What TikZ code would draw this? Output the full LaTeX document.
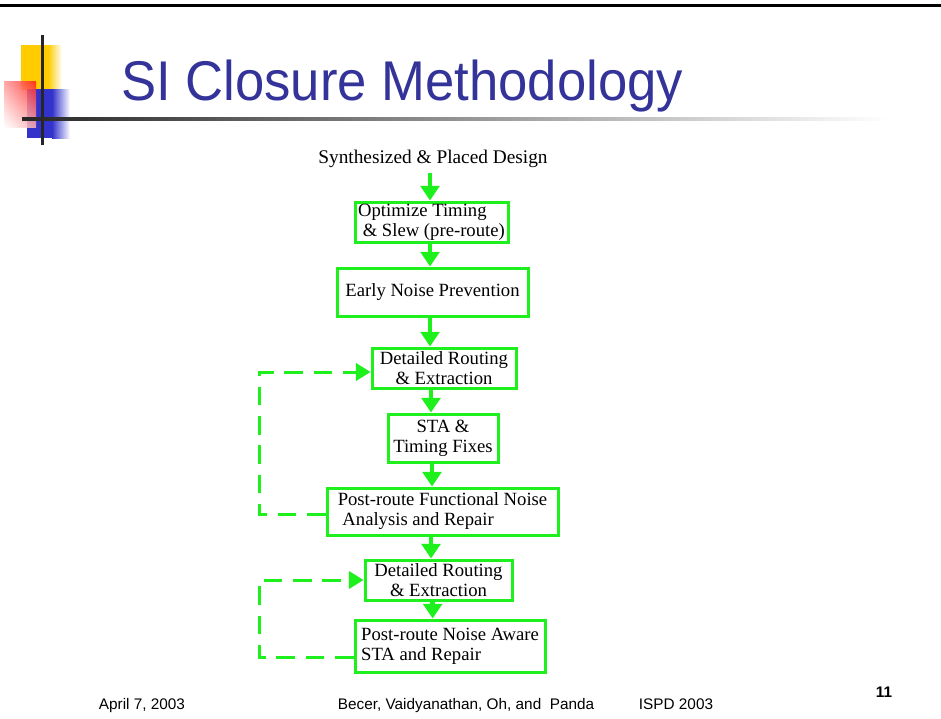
\documentclass[tikz,border=0pt]{standalone}
\usepackage{fontspec}
\setmainfont{Liberation Serif}
\newfontfamily\slidesans{Liberation Sans}
\usetikzlibrary{arrows.meta,shadings}
\definecolor{flowc}{HTML}{1EF01E}
\definecolor{titlec}{HTML}{333399}
\definecolor{sqyellow}{HTML}{FFCC00}
\definecolor{sqblue}{HTML}{3333CC}
\definecolor{sqred}{HTML}{FF1A1A}
\tikzset{
  stepbox/.style={draw=flowc, line width=2.25pt, inner sep=1pt, font=\fontsize{14}{15}\selectfont},
  flow/.style={draw=flowc, line width=3.5pt, -{Triangle[width=14pt,length=11pt]}},
  loopback/.style={draw=flowc, line width=2.25pt, dash pattern=on 14pt off 8pt, -{Triangle[width=13pt,length=11pt]}},
  footer/.style={font=\slidesans\fontsize{11.5}{12}\selectfont, anchor=base},
}

\begin{document}
\begin{tikzpicture}[x=0.75pt,y=-0.75pt]
\useasboundingbox[fill=white] (0,0) rectangle (941,718);
% slide frame
\fill[black] (0,3.5) rectangle (941,6.5);
\fill[sqyellow] (21,45) rectangle (48,90);
\shade[left color=sqyellow, right color=white] (48,45) rectangle (62,90);
\fill[sqblue] (27,89) rectangle (52,138);
\shade[left color=sqblue, right color=white] (52,89) rectangle (70,138);
\shade[upper right=sqred, upper left=sqred!45, lower right=sqred!35, lower left=white, opacity=0.85] (4,81) rectangle (36,127);
\fill[black!85] (40.5,35) rectangle (43.5,145);
\shade[left color=black!85, right color=white] (22,117.5) rectangle (890,120.5);
\node[anchor=base west, inner sep=0pt, text=titlec, font=\slidesans\fontsize{42}{44}\selectfont] (title) at (121,100) {\scalebox{0.94}[1]{SI Closure Methodology}};

% flow
\coordinate (col) at (430,0);
\coordinate (rail) at (259,0);
\node[font=\fontsize{14.5}{15}\selectfont] (src) at (433,159) {Synthesized \& Placed Design};
\node[stepbox, minimum width=114.75pt, minimum height=30pt, align=left] (opt) at (431.5,222) {Optimize Timing\\ \ \& Slew (pre-route)};
\node[stepbox, minimum width=143.25pt, minimum height=36pt] (early) at (432.5,292) {Early Noise Prevention};
\node[stepbox, minimum width=108pt, minimum height=30pt, align=center] (route1) at (444,368) {Detailed Routing\\\& Extraction};
\node[stepbox, minimum width=82.5pt, minimum height=36pt, align=center] (sta) at (443,438) {STA \&\\Timing Fixes};
\node[stepbox, minimum width=173.25pt, minimum height=35.25pt, align=left] (fnoise) at (442.5,511.5) {Post-route Functional Noise\\ \ Analysis and Repair};
\node[stepbox, minimum width=110.25pt, minimum height=30pt, align=center] (route2) at (438.5,580) {Detailed Routing\\\& Extraction};
\node[stepbox, minimum width=142.5pt, minimum height=39pt, align=left] (nsta) at (450,646) {Post-route Noise Aware\\STA and Repair};

\draw[flow] (src.south -| col) -- (opt.north -| col);
\draw[flow] (opt.south -| col) -- (early.north -| col);
\draw[flow] (early.south -| col) -- (route1.north -| col);
\draw[flow] ([xshift=0.75pt]route1.south -| col) -- ([xshift=0.75pt]sta.north -| col);
\draw[flow] ([xshift=1.5pt]sta.south -| col) -- ([xshift=1.5pt]fnoise.north -| col);
\draw[flow] ([xshift=0.75pt]fnoise.south -| col) -- ([xshift=0.75pt]route2.north -| col);
\draw[flow] ([xshift=2pt]route2.south -| col) -- ([xshift=2pt]nsta.north -| col);

\draw[loopback] ([yshift=-2.5pt]fnoise.west) -- ([yshift=-2.5pt]fnoise.west -| rail) |- ([yshift=-3pt]route1.west);
\draw[loopback] ([yshift=-8.25pt]nsta.west) -- ([yshift=-8.25pt]nsta.west -| rail) |- (route2.west);

% footer
\node[footer] (date) at (142,709) {April 7, 2003};
\node[footer] (authors) at (466,709) {Becer, Vaidyanathan, Oh, and\ \ Panda};
\node[footer] (conf) at (676,709) {ISPD 2003};
\node[footer, font=\slidesans\bfseries\fontsize{11.5}{12}\selectfont] (page) at (884,697) {11};
\end{tikzpicture}
\end{document}
